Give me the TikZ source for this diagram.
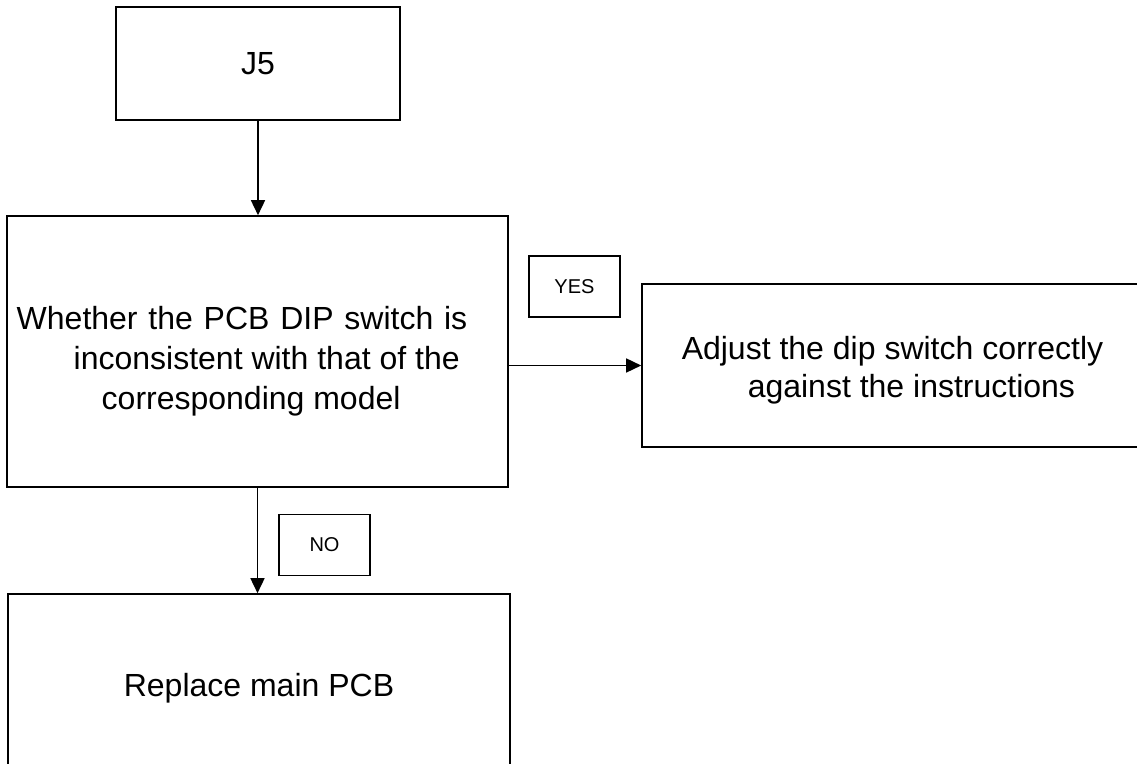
\documentclass[tikz,border=0pt]{standalone}
\usepackage{fontspec}
\setmainfont{Liberation Sans}
\usetikzlibrary{arrows.meta}
\tikzset{
  stepbox/.style={draw, line width=0.8pt, inner sep=0pt, font=\fontsize{16}{19}\selectfont},
  tagbox/.style={draw, line width=0.8pt, minimum width=45.5pt, minimum height=30.5pt, inner sep=0pt, font=\fontsize{10}{12}\selectfont},
  flow/.style={line width=0.8pt, -{Triangle[length=7.5pt,width=7pt]}}
}
\begin{document}
\begin{tikzpicture}[x=0.5pt,y=-0.5pt]
\useasboundingbox (0,0) rectangle (1137,764);
\clip (0,0) rectangle (1137,764);
\node[stepbox, minimum width=142pt, minimum height=56.5pt] (j5) at (258,63.5) {J5};
\node[stepbox, minimum width=250.5pt, minimum height=135.5pt, align=left, font=\fontsize{16}{20}\selectfont] (check) at (257.5,351.5) {\rule{0pt}{21.5pt}{\spaceskip=5.4pt Whether the PCB DIP switch is}\hspace*{15.5pt}\\\hspace*{28.5pt}inconsistent with that of the\\\hspace*{42.5pt}corresponding model};
\node[stepbox, minimum width=250.5pt, minimum height=81.5pt, align=left] (adjust) at (892.5,365.5) {\rule{0pt}{16.5pt}Adjust the dip switch correctly\\\hspace*{33pt}against the instructions};
\node[stepbox, minimum width=251pt, minimum height=94pt] (replace) at (259,688) {Replace main PCB};
\node[tagbox] (yes) at (574.5,286.5) {YES};
\node[tagbox] (no) at (324.5,545) {NO};
\draw[flow] (j5.south) -- (j5.south |- check.north);
\draw[flow] (check.south) -- (check.south |- replace.north);
\draw[flow] (check.east |- adjust.west) -- (adjust.west);
\end{tikzpicture}
\end{document}
